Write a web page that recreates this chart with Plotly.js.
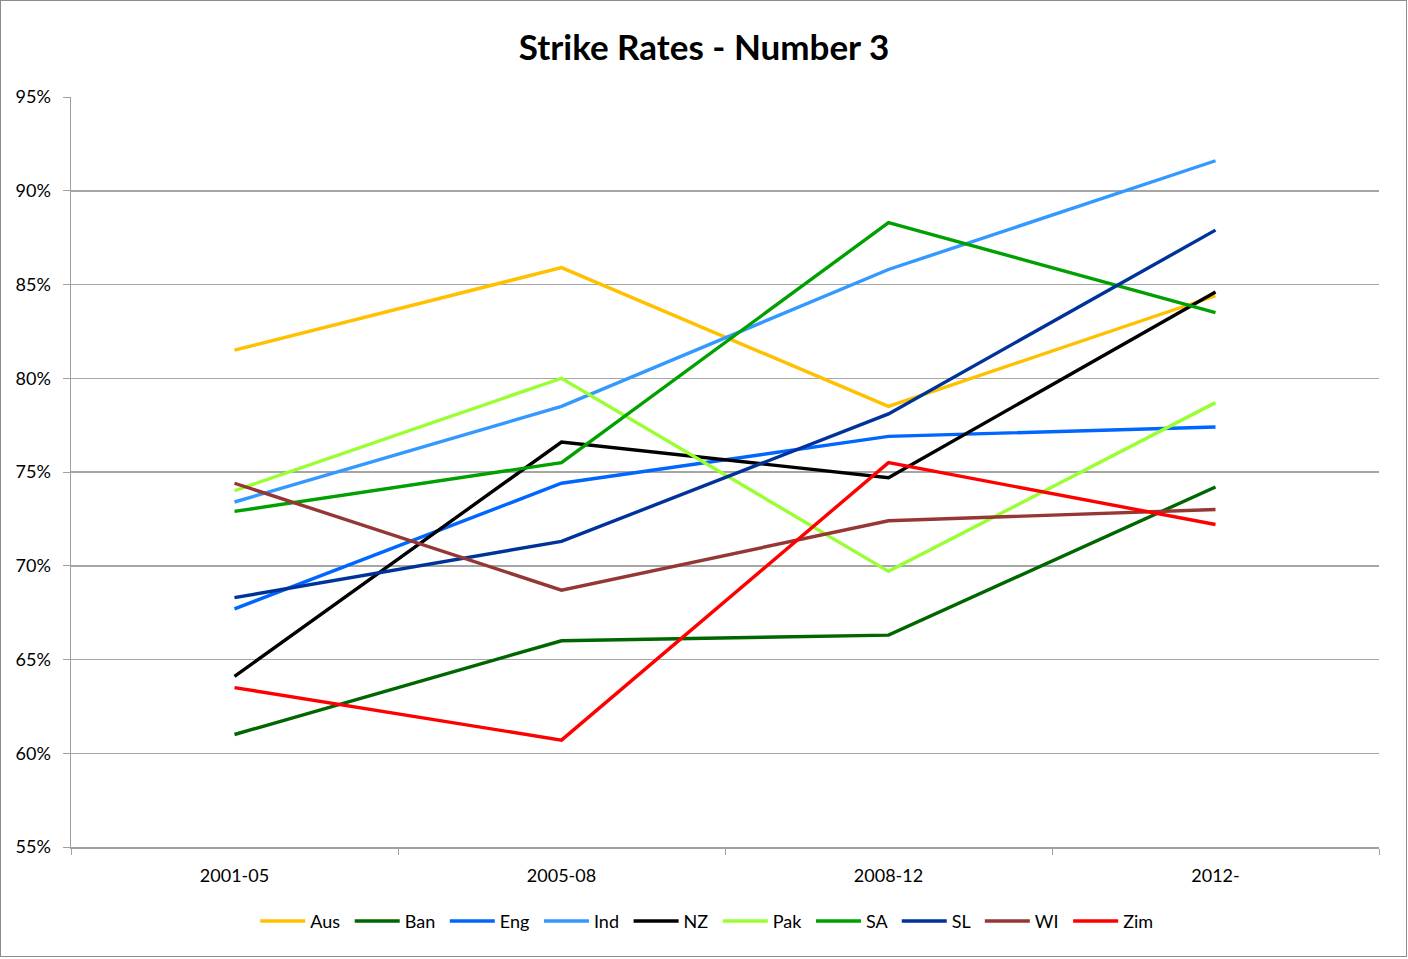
<!DOCTYPE html>
<html>
<head>
<meta charset="utf-8">
<script src="https://cdn.plot.ly/plotly-3.0.1.min.js"></script>
<style>
html,body{margin:0;padding:0;background:#fff;}
#chart{width:1408px;height:959px;}
#frame{position:absolute;left:0;top:0;width:1405px;height:955px;border:1px solid #8c8c8c;pointer-events:none;}
</style>
</head>
<body>
<div id="chart"></div>
<div id="frame"></div>
<script>
const periods = ['2001-05', '2005-08', '2008-12', '2012-'];
const teams = ['Aus', 'Ban', 'Eng', 'Ind', 'NZ', 'Pak', 'SA', 'SL', 'WI', 'Zim'];
const aus = [0.815, 0.859, 0.785, 0.844];
const ban = [0.610, 0.660, 0.663, 0.742];
const eng = [0.677, 0.744, 0.769, 0.774];
const ind = [0.734, 0.785, 0.858, 0.916];
const nz  = [0.641, 0.766, 0.747, 0.846];
const pak = [0.740, 0.800, 0.697, 0.787];
const sa  = [0.729, 0.755, 0.883, 0.835];
const sl  = [0.683, 0.713, 0.781, 0.879];
const wi  = [0.744, 0.687, 0.724, 0.730];
const zim = [0.635, 0.607, 0.755, 0.722];
const seriesValues = [aus, ban, eng, ind, nz, pak, sa, sl, wi, zim];
const colors = ['#FFC000', '#006600', '#0066FF', '#3399FF', '#000000', '#99FF33', '#00A000', '#003399', '#953735', '#FF0000'];

const font = 'Lato, "Open Sans", "DejaVu Sans", sans-serif';
const traces = teams.map((t, i) => ({
  type: 'scatter',
  mode: 'lines',
  name: t + '\u00a0',
  x: periods,
  y: seriesValues[i],
  line: {color: colors[i], width: 3.4},
  hoverinfo: 'x+y+name'
}));

const layout = {
  width: 1408,
  height: 959,
  paper_bgcolor: '#fff',
  plot_bgcolor: '#fff',
  margin: {l: 71, r: 29, t: 97, b: 112},
  font: {family: font, size: 18, color: '#000'},
  title: {
    text: '<b>Strike Rates - Number 3</b>',
    font: {family: font, size: 35, color: '#000'},
    x: 0.5, xanchor: 'center',
    y: 0.95, yanchor: 'middle'
  },
  xaxis: {
    type: 'category',
    range: [-0.5, 3.5],
    showgrid: false,
    showline: true,
    linecolor: '#a0a0a0',
    linewidth: 1.5,
    ticks: 'outside',
    tickson: 'boundaries',
    ticklen: 6,
    tickcolor: '#a0a0a0',
    ticklabelstandoff: 12,
    tickfont: {family: font, size: 18, color: '#000'},
    zeroline: false,
    fixedrange: true
  },
  yaxis: {
    range: [0.55, 0.95],
    dtick: 0.05,
    tick0: 0.55,
    tickformat: '.0%',
    showgrid: true,
    gridcolor: '#a6a6a6',
    gridwidth: 1.5,
    showline: true,
    linecolor: '#a0a0a0',
    linewidth: 1.5,
    ticks: 'outside',
    ticklen: 7,
    tickcolor: '#a0a0a0',
    ticklabelstandoff: 8,
    tickfont: {family: font, size: 18, color: '#000'},
    zeroline: false,
    fixedrange: true
  },
  showlegend: true,
  legend: {
    orientation: 'h',
    x: 0.488, xanchor: 'center',
    y: -0.099, yanchor: 'middle',
    font: {family: font, size: 18, color: '#000'},
    itemwidth: 45,
    tracegroupgap: 0
  }
};

Plotly.newPlot('chart', traces, layout, {displayModeBar: false, staticPlot: true});
</script>
</body>
</html>
